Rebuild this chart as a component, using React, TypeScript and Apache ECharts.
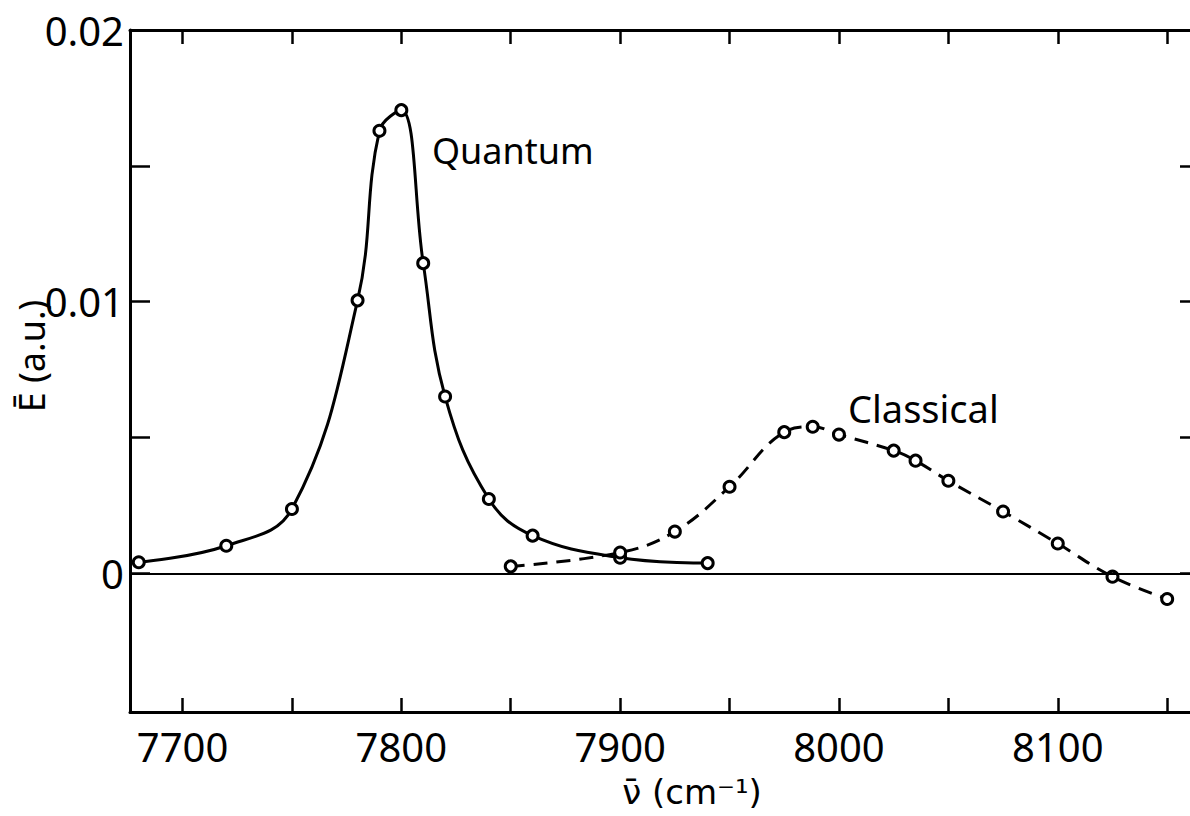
import React, { useEffect, useRef } from "react";
import * as echarts from "echarts";

const quantumX = [7680, 7720, 7750, 7780, 7790, 7800, 7810, 7820, 7840, 7860, 7900, 7940];
const quantumY = [0.00041, 0.00102, 0.00237, 0.01005, 0.01629, 0.01705, 0.01142, 0.00651, 0.00274, 0.00139, 0.00058, 0.00038];

const classicalX = [7850, 7900, 7925, 7950, 7975, 7988, 8000, 8025, 8035, 8050, 8075, 8100, 8125, 8150];
const classicalY = [0.00026, 0.00077, 0.00154, 0.00319, 0.0052, 0.0054, 0.00511, 0.00452, 0.00415, 0.00341, 0.00228, 0.0011, -0.00012, -0.00094];

const xTickValues = [7700, 7750, 7800, 7850, 7900, 7950, 8000, 8050, 8100, 8150];
const xLabelValues = [7700, 7800, 7900, 8000, 8100];
const yTickValues = [0, 0.005, 0.01, 0.015];
const yLabelValues = [0, 0.01, 0.02];

const FONT = "Noto Sans";

export default function App() {
  const ref = useRef<HTMLDivElement>(null);
  useEffect(() => {
    if (!ref.current) return;
    const chart = echarts.init(ref.current, null, { renderer: "svg" });
    const axisLine = { show: true, onZero: false, lineStyle: { color: "#000", width: 3 } };
    const tickStyle = { color: "#000", width: 2.5 };
    const option = {
      animation: false,
      backgroundColor: "#fff",
      grid: { left: 130, right: 20, top: 30, bottom: 104 },
      xAxis: [
        {
          type: "value",
          position: "bottom",
          min: 7676,
          max: 8165,
          axisLine,
          splitLine: { show: false },
          axisTick: { show: true, inside: true, length: 14, lineStyle: tickStyle, customValues: xTickValues },
          axisLabel: {
            show: true,
            customValues: xLabelValues,
            formatter: (v: number) => String(v),
            fontSize: 40,
            fontFamily: FONT,
            color: "#000",
            margin: 14,
          },
        },
        {
          type: "value",
          position: "top",
          min: 7676,
          max: 8165,
          axisLine,
          splitLine: { show: false },
          axisTick: { show: true, inside: true, length: 14, lineStyle: tickStyle, customValues: xTickValues },
          axisLabel: { show: false },
        },
      ],
      yAxis: [
        {
          type: "value",
          position: "left",
          min: -0.0051,
          max: 0.02,
          axisLine,
          splitLine: { show: false },
          axisTick: { show: true, inside: true, length: 20, lineStyle: tickStyle, customValues: yTickValues },
          axisLabel: {
            show: true,
            customValues: yLabelValues,
            formatter: (v: number) => String(v),
            fontSize: 40,
            fontFamily: FONT,
            color: "#000",
            margin: 6,
          },
        },
        {
          type: "value",
          position: "right",
          min: -0.0051,
          max: 0.02,
          axisLine,
          splitLine: { show: false },
          axisTick: { show: true, inside: true, length: 20, lineStyle: tickStyle, customValues: yTickValues },
          axisLabel: { show: false },
        },
      ],
      series: [
        {
          name: "Quantum",
          type: "line",
          smooth: 0.4,
          data: quantumX.map((x, i) => [x, quantumY[i]]),
          symbol: "circle",
          symbolSize: 11,
          itemStyle: { color: "#fff", borderColor: "#000", borderWidth: 3 },
          lineStyle: { color: "#000", width: 3 },
          z: 3,
          markLine: {
            silent: true,
            symbol: "none",
            label: { show: false },
            lineStyle: { color: "#000", width: 2, type: "solid" },
            data: [{ yAxis: 0 }],
          },
        },
        {
          name: "Classical",
          type: "line",
          smooth: 0.4,
          data: classicalX.map((x, i) => [x, classicalY[i]]),
          symbol: "circle",
          symbolSize: 11,
          itemStyle: { color: "#fff", borderColor: "#000", borderWidth: 3 },
          lineStyle: { color: "#000", width: 3, type: [14, 9] },
          z: 3,
        },
      ],
      graphic: [
        {
          type: "text",
          x: 432,
          y: 150,
          style: { text: "Quantum", fontSize: 36, fontFamily: FONT, fill: "#000", textAlign: "left", textVerticalAlign: "middle" },
        },
        {
          type: "text",
          x: 848,
          y: 408,
          style: { text: "Classical", fontSize: 38, fontFamily: FONT, fill: "#000", textAlign: "left", textVerticalAlign: "middle" },
        },
        {
          type: "text",
          x: 31,
          y: 356,
          rotation: Math.PI / 2,
          style: { text: "Ē (a.u.)", fontSize: 36, fontFamily: FONT, fill: "#000", textAlign: "center", textVerticalAlign: "middle" },
        },
        {
          type: "text",
          x: 692,
          y: 792,
          style: { text: "ν̄ (cm⁻¹)", fontSize: 34, fontFamily: "DejaVu Sans", fill: "#000", textAlign: "center", textVerticalAlign: "middle" },
        },
      ],
    };
    chart.setOption(option as any);
    return () => chart.dispose();
  }, []);
  return (
    <div style={{ position: "fixed", left: 0, top: 0, width: 1190, height: 816, overflow: "hidden", background: "#fff" }}>
      <div ref={ref} style={{ width: 1220, height: 816 }} />
    </div>
  );
}
